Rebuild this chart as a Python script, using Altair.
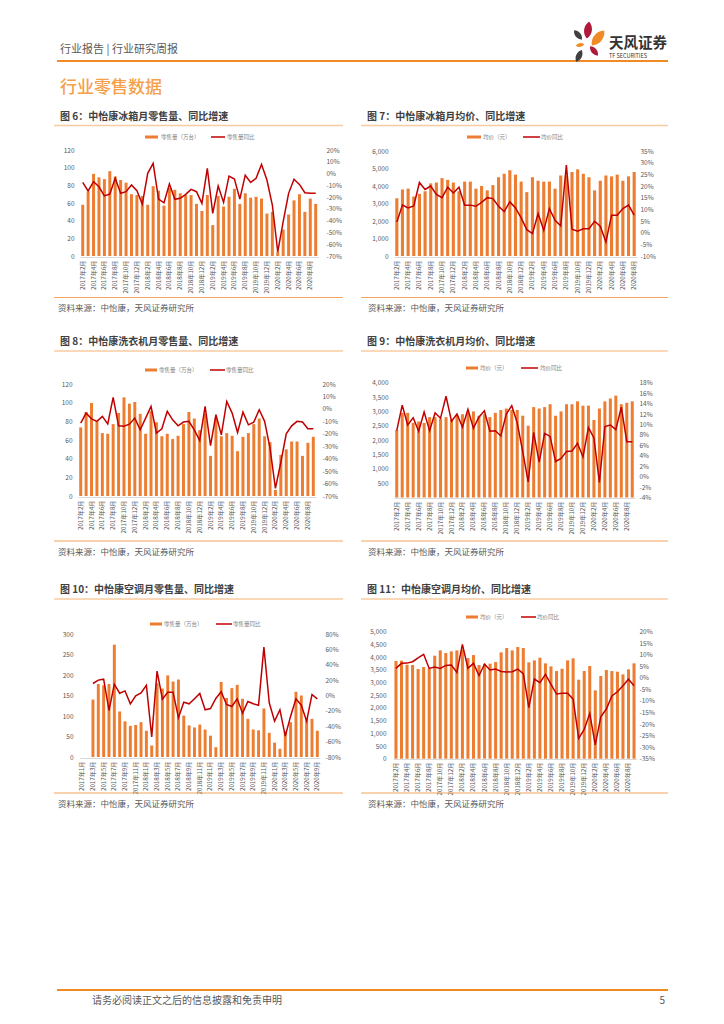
import altair as alt
import pandas as pd

FONT = "Noto Sans CJK SC"
W, H = 708, 1008
ORANGE = "#ED7D31"
RED = "#C00000"
GRAY = "#595959"


def month_list(y, m, n):
    out = []
    for _ in range(n):
        out.append(f"{y}年{m}月")
        m += 1
        if m > 12:
            m = 1
            y += 1
    return out


# ---------------- data ----------------
# 图6 冰箱 零售量（万台） / 同比(%)
cats6 = month_list(2017, 2, 44)
fridge_vol = [58, 73, 93, 89, 87, 96, 90, 86, 83, 70, 69, 68, 58, 79, 74, 57, 77, 75, 71, 69,
              69, 59, 51, 69, 35, 68, 56, 67, 76, 59, 71, 66, 67, 65, 48, 50, 5, 30, 47, 63,
              70, 50, 65, 59]
fridge_yoy = [-7.5, -14.8, -6.9, -11.2, -19, -17.4, -4, -16.8, -15.4, -9.7, -14.6, -25.9, 0.2, 8.7,
              -21.6, -24.8, -8.9, -21.9, -21, -17.7, -13.4, -15.4, -25.3, 4.4, -33.8, -10.6, -24.5,
              -2.1, -4.6, -21.6, -1.4, -7.5, -4, 7.8, -5.5, -26.7, -66.4, -40.9, -16.8, -4.9, -9.2,
              -16.3, -16.8, -16.8]

# 图7 冰箱 均价（元） / 同比(%)
cats7 = month_list(2017, 2, 43)
fridge_price = [3300, 3800, 3850, 3400, 3550, 3700, 4150, 4200, 4450, 4350, 4200, 3700, 4250, 4250,
                3850, 4000, 3750, 4050, 4500, 4700, 4900, 4650, 4250, 3650, 4500, 4300, 4250, 4250,
                3850, 4600, 4600, 4800, 4950, 4700, 4500, 3750, 4300, 4600, 4550, 4650, 4300, 4550,
                4800]
fridge_price_yoy = [4.6, 11.8, 10.6, 11.5, 21.5, 18.5, 20, 16.4, 15, 19.5, 17, 19.5, 11.8, 11.8,
                    11.3, 13, 15, 14.6, 11.3, 9, 13.2, 10.6, 6.3, 1.3, -0.4, 8.2, 1, 10.3, 5.3, 2.9,
                    29, 1.5, 0.6, 1.7, 1.7, 4.9, 2.8, -4, 7.5, 7.5, 10.3, 11.8, 7.5]

# 图8 洗衣机 零售量（万台） / 同比(%)
cats8 = month_list(2017, 2, 44)
wm_vol = [73.5, 90, 99.6, 80, 67.4, 66.7, 77, 89, 105.7, 99, 100.7, 88, 66.7, 91, 79, 64, 66.7, 61,
          64.5, 77, 90, 83, 70.6, 88, 43, 83.5, 64, 67.4, 64.5, 48, 63.4, 67.4, 77, 83, 64, 57.7,
          6.5, 44, 50, 58.4, 58.4, 43, 57, 63.4]
wm_yoy = [-11.5, -3.4, -8, -10, -6, -12, 9.2, -13.6, -14, -12.3, -7.4, -16.8, -7.4, 2, -19.5, -16,
          -2, -8.8, -13.6, -10.6, -10, -16.8, -25.4, 2, -29.5, -4.7, -20.9, 6, -3.4, -19, -2.6,
          -12.8, -10.6, -0.7, -10, -31.6, -63.9, -42.9, -20, -13.6, -10, -10.5, -16, -16]

# 图9 洗衣机 均价（元） / 同比(%)
cats9 = month_list(2017, 2, 44)
wm_price = [2350, 2950, 2950, 2600, 2650, 2600, 2800, 2800, 2750, 2800, 2700, 2850, 2900, 2950,
            3000, 2850, 2900, 2800, 2950, 3050, 3100, 3050, 3050, 2850, 2500, 3150, 3100, 3150,
            3250, 2850, 3000, 3250, 3250, 3350, 3200, 3200, 2700, 3100, 3350, 3450, 3550, 3250,
            3300, 3350]
wm_price_yoy = [8.8, 13.7, 9.9, 11.3, 8.7, 12.4, 8.8, 12.2, 11.2, 15.4, 10.6, 12, 9.5, 12.9, 9.3,
                11.4, 12.6, 8.7, 8.8, 7.8, 12, 13.6, 10.3, 4.8, -1, 8.5, 2.8, 8.3, 7.7, 2.9, 3.5,
                4.8, 4.9, 6.4, 3.8, 9.4, 7.4, -1.1, 9.6, 9.9, 9, 13.3, 6.7, 6.7]

# 图10 空调 零售量（万台） / 同比(%)
cats10 = month_list(2017, 1, 45)
ac_vol = [140, 178, 175, 178, 274, 111, 87, 76, 78, 85, 64, 28, 180, 167, 199, 184, 189, 101, 77,
          72, 79, 67, 52, 24, 183, 144, 168, 176, 142, 93, 67, 65, 118, 59, 35, 20, 63, 85, 159,
          150, 95, 93, 64]
ac_yoy = [15.6, 20, 21.2, -19.5, 14.7, 3, 6, -10.8, -0.4, 3.5, 13.4, -53.8, 31.7, -4.8, 4.3, 4.3,
          -29, -8.7, -10.8, -4.3, 2.6, -18.6, -16.9, -3.9, 4.8, -11.7, -14.3, -4.3, -23, -7.8,
          -10.8, -12.6, 62.9, -9.5, -33.4, -18.6, -52.9, -26.9, -4.3, -12.6, -33.4, 1.3, -4.3]

# 图11 空调 均价（元） / 同比(%)
cats11 = month_list(2017, 2, 44)
ac_price = [3845, 3860, 3700, 3690, 3530, 3610, 3550, 4055, 4265, 4160, 4225, 4265, 4300, 3963,
            4080, 3690, 3740, 3740, 3805, 4186, 4357, 4265, 4396, 4357, 3793, 3871, 3976, 3753,
            3635, 3451, 3543, 3871, 3950, 3110, 3451, 3648, 2690, 3254, 3490, 3451, 3425, 3320,
            3517, 3753]
ac_price_yoy = [4.1, 6.3, 6.4, 7, 8.7, 10.2, 4.1, 4.7, 4.1, 5.4, 5.6, 2.4, 14.5, 4.1, 6.3, 1, 5.9,
                3.4, 3.8, 2.8, 2.5, 2.7, 3.8, 1.8, -12.9, -0.5, -2.1, 1.5, -2.8, -7, -6.7, -6.7,
                -9.2, -26.2, -22.3, -15.4, -29, -16.9, -13.5, -7.8, -6, -3.4, -0.6, -3.4]

# ---------------- helpers ----------------
ONE = alt.Data(values=[{"k": 1}])


def txt(x, y, s, size, color, weight="normal", align="left", baseline="middle"):
    return alt.Chart(ONE).mark_text(
        text=s, font=FONT, fontSize=size, color=color, fontWeight=weight,
        align=align, baseline=baseline
    ).encode(x=alt.value(x), y=alt.value(y))


def hrule(x1, x2, y, color, w):
    return alt.Chart(ONE).mark_rule(color=color, strokeWidth=w).encode(
        x=alt.value(x1), x2=alt.value(x2), y=alt.value(y))


def legend(xr, xt1, xl, xt2, y, t1, t2):
    rect = alt.Chart(ONE).mark_rect(color=ORANGE).encode(
        x=alt.value(xr[0]), x2=alt.value(xr[1]), y=alt.value(y - 1.5), y2=alt.value(y + 1.5))
    return [rect, txt(xt1, y, t1, 5.5, "#7F7F7F"), hrule(xl[0], xl[1], y, RED, 1.5),
            txt(xt2, y, t2, 5.5, "#7F7F7F")]


def combo(cats, label_step, vol, yoy, xr, yr, ldom, lvals, rdom, rvals, loff, roff, xoff):
    lead = len(cats) - len(vol)
    df = pd.DataFrame({"cat": cats[lead:], "vol": vol, "yoy": yoy})
    labels = cats[::label_step]
    xscale = alt.Scale(domain=cats, range=xr, paddingInner=0.45, paddingOuter=0.225)
    bars = alt.Chart(df).mark_bar(color=ORANGE).encode(
        x=alt.X("cat:N", scale=xscale,
                axis=alt.Axis(orient="bottom", offset=xoff, values=labels, labelAngle=-90,
                              labelFont=FONT, labelFontSize=6.2, labelColor=GRAY, labelPadding=3,
                              ticks=False, domainColor="#D9D9D9", grid=False, title=None)),
        y=alt.Y("vol:Q", scale=alt.Scale(domain=ldom, range=yr, nice=False),
                axis=alt.Axis(orient="left", offset=loff, values=lvals, format=",d",
                              labelFont=FONT, labelFontSize=6.5, labelColor=GRAY, labelPadding=2,
                              ticks=False, tickSize=0, domain=False, grid=False, title=None)),
    )
    line = alt.Chart(df).mark_line(color=RED, strokeWidth=1.5).encode(
        x=alt.X("cat:N", scale=xscale, axis=None),
        y=alt.Y("yoy:Q", scale=alt.Scale(domain=rdom, range=yr, nice=False, zero=False),
                axis=alt.Axis(orient="right", offset=roff, values=rvals,
                              labelExpr="datum.value + '%'",
                              labelFont=FONT, labelFontSize=6.5, labelColor=GRAY, labelPadding=2,
                              ticks=False, tickSize=0, domain=False, grid=False, title=None)),
    )
    return [bars, line]


LEAF = "M0,-1C0.6,-0.45,0.6,0.45,0,1C-0.6,0.45,-0.6,-0.45,0,-1Z"


def petal(x, y, size, angle, color):
    return alt.Chart(ONE).mark_point(shape=LEAF, filled=True, size=size, angle=angle,
                                     color=color, opacity=1, strokeWidth=0).encode(
        x=alt.value(x), y=alt.value(y))


layers = []

# header
layers += [
    txt(52, 42, "行业报告  |  行业研究周报", 11, GRAY),
    hrule(49, 660, 53, "#F08A24", 2),
    petal(570, 27, 150, 320, "#404040"),
    petal(580, 22, 300, 8, "#B0193A"),
    petal(590, 30, 380, 40, "#F08A24"),
    petal(572, 37, 70, 80, "#F08A24"),
    petal(586, 43, 150, 320, "#B0193A"),
    petal(571, 48, 170, 25, "#404040"),
    txt(601, 36, "天风证券", 14.5, "#333333", weight="bold"),
    txt(601, 48, "TF SECURITIES", 5.5, "#333333"),
    txt(52, 80, "行业零售数据", 17, "#F5A04A", weight=500),
]

# titles and rules
TITLE_C = "#404040"
for (yt, yr_, t1, t2) in [
    (109, 117.5, "图 6：中怡康冰箱月零售量、同比增速", "图 7：中怡康冰箱月均价、同比增速"),
    (334, 343, "图 8：中怡康洗衣机月零售量、同比增速", "图 9：中怡康洗衣机月均价、同比增速"),
    (582, 591, "图 10：中怡康空调月零售量、同比增速", "图 11：中怡康空调月均价、同比增速"),
]:
    layers += [txt(52, yt, t1, 10, TITLE_C, weight="bold"), txt(359, yt, t2, 10, TITLE_C, weight="bold"),
               hrule(46, 335, yr_, "#F8CBA0", 1.5), hrule(353, 660, yr_, "#F8CBA0", 1.5)]

SRC = "资料来源：中怡康，天风证券研究所"
for (yr_, ys) in [(289.5, 300), (533, 544), (785, 796)]:
    layers += [hrule(46, 335, yr_, "#F4A460", 1.2), hrule(353, 660, yr_, "#F4A460", 1.2),
               txt(50, ys, SRC, 8.5, GRAY), txt(360, ys, SRC, 8.5, GRAY)]

# legends
layers += legend((137, 150), 153, (203, 217), 219, 129, "零售量（万台）", "零售量同比")
layers += legend((459, 473), 475, (515, 532), 533, 129, "均价（元）", "均价同比")
layers += legend((137, 149), 151, (202, 217), 218, 362, "零售量（万台）", "零售量同比")
layers += legend((458, 470), 472, (513, 530), 532, 360, "均价（元）", "均价同比")
layers += legend((142, 154), 156, (208, 224), 225, 616, "零售量（万台）", "零售量同比")
layers += legend((458, 470), 472, (513, 528), 529, 609, "均价（元）", "均价同比")

# charts
layers += combo(cats6, 2, fridge_vol, fridge_yoy, [72, 310.4], [248, 142], [0, 120],
                list(range(0, 121, 20)), [-70, 20], list(range(-70, 21, 10)), -68, -392, -759)
layers += combo(cats7, 2, fridge_price, fridge_price_yoy, [386, 629], [248, 143], [0, 6000],
                list(range(0, 6001, 1000)), [-10, 35], list(range(-10, 36, 5)), -382, -78, -759)
layers += combo(cats8, 2, wm_vol, wm_yoy, [70, 308], [488, 376], [0, 120],
                list(range(0, 121, 20)), [-70, 20], list(range(-70, 21, 10)), -66, -396, -519)
layers += combo(cats9, 2, wm_price, wm_price_yoy, [386, 627], [489.5, 374.7], [0, 4000],
                list(range(500, 4001, 500)), [-4, 18], list(range(-4, 19, 2)), -382, -79, -518)
layers += combo(cats10, 2, ac_vol, ac_yoy, [71.6, 312], [749, 626], [0, 300],
                list(range(0, 301, 50)), [-80, 80], list(range(-80, 81, 20)), -67, -393, -258)
layers += combo(cats11, 2, ac_price, ac_price_yoy, [385.2, 628.8], [750.7, 623.7], [0, 5000],
                list(range(0, 5001, 500)), [-35, 20], list(range(-35, 21, 5)), -380, -79, -257)

# footer
layers += [
    hrule(49, 660, 982, "#F08A24", 2),
    txt(84, 993, "请务必阅读正文之后的信息披露和免责申明", 10, GRAY),
    txt(657, 993, "5", 10, GRAY, align="right"),
]

chart = alt.layer(*layers).resolve_scale(x="independent", y="independent").properties(
    width=W, height=H, padding=0
).configure_view(stroke=None)

chart.save("out.html", embed_options={"renderer": "svg", "actions": False})
